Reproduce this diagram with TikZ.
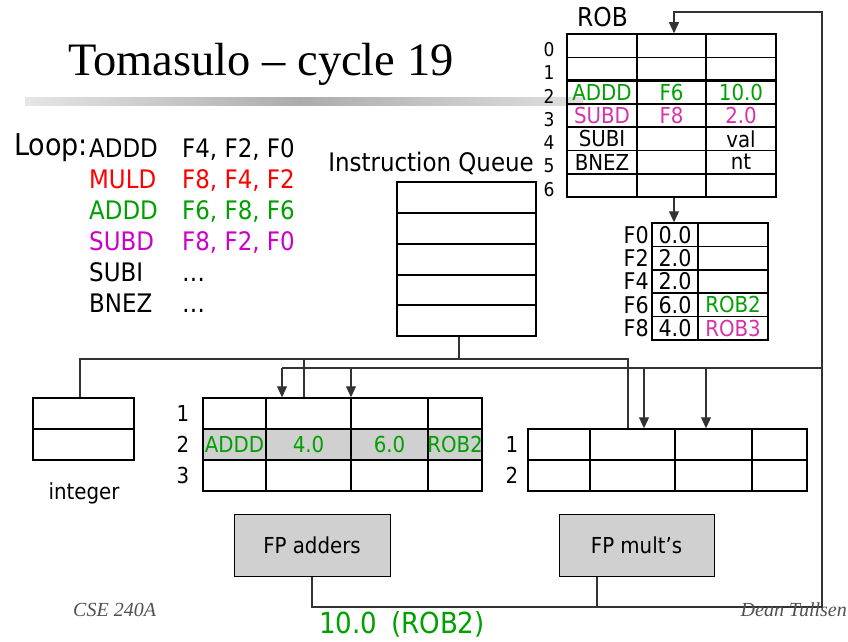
\documentclass[tikz,border=0pt]{standalone}
\usepackage{fontspec}
\setmainfont{DejaVu Sans Condensed}
\newfontfamily\serifttl{Liberation Serif}
\usetikzlibrary{arrows.meta,positioning,calc}

\definecolor{opgreen}{RGB}{0,160,0}
\definecolor{opmag}{RGB}{204,0,204}
\definecolor{robpink}{RGB}{214,51,168}
\definecolor{unitgray}{RGB}{208,208,208}
\definecolor{footgray}{RGB}{80,80,80}

\begin{document}
\begin{tikzpicture}[x=1pt, y=-1pt, >={Triangle[width=10pt,length=11pt]},
  tbl/.style={draw, line width=1.5pt, inner sep=0pt},
  grid/.style={line width=1.5pt},
  bus/.style={draw=black!80, line width=1.1pt},
  lbl/.style={inner sep=0pt, font=\fontsize{22}{26}\selectfont},
  idx/.style={inner sep=0pt, font=\fontsize{19}{22}\selectfont},
  code/.style={inner sep=0pt, anchor=base west, font=\fontsize{25.5}{30}\selectfont},
  unit/.style={draw, line width=1pt, fill=unitgray, minimum width=156pt,
    minimum height=62pt, inner sep=0pt, font=\fontsize{22}{26}\selectfont}]

\useasboundingbox (0,0) rectangle (848,642);

% Title and bar
\node[anchor=base west, inner sep=0pt, font=\serifttl\fontsize{46.5}{50}\selectfont]
  (title) at (68,75) {Tomasulo – cycle 19};
\shade[left color=gray!20, right color=gray!65] (25,97) rectangle (300,105);
\shade[left color=gray!65, right color=gray!25] (300,97) rectangle (583,105);

% Code
\node[code, font=\fontsize{30}{34}\selectfont] (loop) at (14,155) {Loop:};
\foreach \op/\args/\col [count=\n] in {ADDD/{F4, F2, F0}/black, MULD/{F8, F4, F2}/red,
    ADDD/{F6, F8, F6}/opgreen, SUBD/{F8, F2, F0}/opmag, SUBI/…/black, BNEZ/…/black} {
  \node[code, text=\col] (op\n) at (89,{157+31*(\n-1)}) {\op};
  \node[code, text=\col] (arg\n) at (182,{157+31*(\n-1)}) {\args};
}

% Instruction queue
\node[code, anchor=base east] (iqlabel) at (534,171) {Instruction Queue};
\node[tbl, minimum width=139pt, minimum height=154pt] (iq) at (466.5,259) {};
\foreach \y in {213,244,275,305} \draw[grid] (397,\y) -- (536,\y);

% ROB
\node[code, font=\fontsize{26}{30}\selectfont] (roblabel) at (577,27) {ROB};
\node[tbl, minimum width=209pt, minimum height=163pt] (rob) at (671.5,115.5) {};
\foreach \i in {1,3,4,5,6} \draw[grid] (567,{34+23.3*\i}) -- (776,{34+23.3*\i});
\draw[line width=2.6pt] (567,80.6) -- (776,80.6);
\foreach \x in {637,706} \draw[grid] (\x,34) -- (\x,197);
\foreach \i in {0,...,6} \node[idx] (robi\i) at (549,{34+23.3*\i+15.5}) {\i};
\foreach \a/\b/\c/\col [count=\n from 2] in {ADDD/F6/10.0/opgreen, SUBD/F8/2.0/robpink,
    SUBI//val/black, BNEZ//nt/black} {
  \node[lbl, text=\col] (robop\n) at (602,{34+23.3*(\n+0.5)}) {\a};
  \node[lbl, text=\col] (robdst\n) at (671.5,{34+23.3*(\n+0.5)}) {\b};
  \node[lbl, text=\col] (robval\n) at (741,{34+23.3*(\n+0.5)}) {\c};
}

% Register file
\node[tbl, minimum width=116pt, minimum height=117pt] (regs) at (710,281.5) {};
\foreach \y in {246.4,269.8,293.2,316.6} \draw[grid] (652,\y) -- (768,\y);
\draw[grid] (698,223) -- (698,340);
\foreach \r/\v [count=\n] in {F0/0.0, F2/2.0, F4/2.0, F6/6.0, F8/4.0} {
  \node[lbl, anchor=east, font=\fontsize{23}{26}\selectfont] (reg\r) at (649,{223+23.4*(\n-0.5)}) {\r};
  \node[lbl, font=\fontsize{23}{26}\selectfont] (val\r) at (675,{223+23.4*(\n-0.5)}) {\v};
}
\node[lbl, text=opgreen] (tagF6) at (733,{223+23.4*3.5}) {ROB2};
\node[lbl, text=robpink] (tagF8) at (733,{223+23.4*4.5}) {ROB3};

% Integer unit
\node[draw, line width=1.5pt, minimum width=101pt, minimum height=62pt, inner sep=0pt]
  (intu) at (83.5,429) {};
\draw[line width=2.4pt] (33,429) -- (134,429);
\node[lbl, anchor=base] (intlabel) at (84,499) {integer};

% Adder reservation stations
\fill[unitgray] (203,429) rectangle (482,460);
\node[tbl, minimum width=279pt, minimum height=93pt] (addrs) at (342.5,444.5) {};
\foreach \y in {429,460} \draw[grid] (203,\y) -- (482,\y);
\foreach \x in {266,351,428} \draw[grid] (\x,398) -- (\x,491);
\foreach \i in {1,2,3} \node[lbl] (addi\i) at (183,{398+31*(\i-0.5)}) {\i};
\node[lbl, text=opgreen] (rsop) at (234.5,444.5) {ADDD};
\node[lbl, text=opgreen] (rsvj) at (308.5,444.5) {4.0};
\node[lbl, text=opgreen] (rsvk) at (389.5,444.5) {6.0};
\node[lbl, text=opgreen] (rsdst) at (455,444.5) {ROB2};

% Multiplier reservation stations
\node[tbl, minimum width=279pt, minimum height=62pt] (mulrs) at (667.5,460) {};
\draw[grid] (528,460) -- (807,460);
\foreach \x in {590,675,752} \draw[grid] (\x,429) -- (\x,491);
\foreach \i in {1,2} \node[lbl] (muli\i) at (512,{429+31*(\i-0.5)}) {\i};

% Functional units
\node[unit] (fpadd) at (312,545) {FP adders};
\node[unit, minimum width=155pt] (fpmul) at (636.5,545) {FP mult’s};

% Issue bus
\coordinate (iqdrop) at (459,359);
\coordinate (busL) at (80,359);
\coordinate (busA) at (304,359);
\coordinate (busR) at (628,359);
\draw[bus] (iq.south -| iqdrop) -- (iqdrop);
\draw[bus] (intu.north -| busL) |- (busR) -- (mulrs.north -| busR);
\draw[bus] (busA) -- (addrs.north -| busA);

% Common data bus
\coordinate (mulout) at (597,607);
\coordinate (cdbBR) at (822,607);
\coordinate (robin) at (674,12);
\coordinate (cdbmid) at (822,368);
\coordinate (cdbA1) at (282,368);
\coordinate (cdbA2) at (351,368);
\coordinate (cdbM1) at (644,368);
\coordinate (cdbM2) at (706,368);
\draw[bus, ->] (fpadd.south) |- (cdbBR) |- (robin) -- (rob.north -| robin);
\draw[bus] (fpmul.south -| mulout) -- (mulout);
\draw[bus] (cdbmid) -- (cdbA1);
\foreach \p/\t in {cdbA1/addrs, cdbA2/addrs, cdbM1/mulrs, cdbM2/mulrs}
  \draw[bus, ->] (\p) -- (\t.north -| \p);
\draw[bus, ->] (rob.south -| robin) -- (regs.north -| robin);
\node[inner sep=0pt, anchor=base west, text=opgreen, font=\fontsize{29}{32}\selectfont]
  (result) at (319,633) {10.0\hspace{14pt}(ROB2)};

% Footer
\node[inner sep=0pt, anchor=base west, text=footgray, font=\serifttl\itshape\fontsize{20}{24}\selectfont]
  (course) at (73,616) {CSE 240A};
\node[inner sep=0pt, anchor=base east, text=footgray, font=\serifttl\itshape\fontsize{20}{24}\selectfont]
  (author) at (847,616) {Dean Tullsen};

\end{tikzpicture}
\end{document}
